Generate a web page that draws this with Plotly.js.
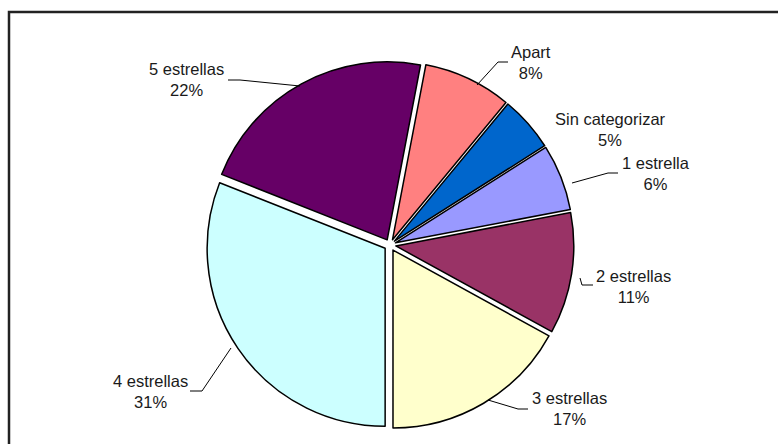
<!DOCTYPE html>
<html>
<head>
<meta charset="utf-8">
<script src="https://cdn.plot.ly/plotly-3.0.1.min.js"></script>
<style>
  html, body { margin: 0; padding: 0; background: #ffffff; }
  #chart { width: 778px; height: 444px; }
</style>
</head>
<body>
<div id="chart"></div>
<script>
// ---- data ----
const categories = ["Apart", "Sin categorizar", "1 estrella", "2 estrellas", "3 estrellas", "4 estrellas", "5 estrellas"];
const shares = [8, 5, 6, 11, 17, 31, 22];
const sliceColors = ["#FF8080", "#0066CC", "#9999FF", "#993366", "#FFFFCC", "#CCFFFF", "#660066"];

// ---- layout helpers (pixel -> paper) ----
const W = 778, H = 444;
const px = v => v / W;
const py = v => 1 - v / H;

// pie geometry
const cx = 390, cy = 245, R = 178, pullFrac = 0.033;
const box = R * (2 + 2 * pullFrac);
const domainX = [px(cx - 200), px(cx + 200)];
const domainY = [py(cy + box / 2), py(cy - box / 2)];

const total = shares.reduce((a, b) => a + b, 0);
const pctText = shares.map(v => Math.round(v / total * 100) + "%");

// label block centres (pixels) and leader line paths (pixels)
const labelPos = {
  "Apart": [531, 62],
  "Sin categorizar": [610, 129.5],
  "1 estrella": [656, 173],
  "2 estrellas": [633, 286],
  "3 estrellas": [569, 408.5],
  "4 estrellas": [150, 391.5],
  "5 estrellas": [186, 80]
};
const leaders = [
  [[228, 80], [240, 80], [300, 86]],
  [[508, 62], [498, 62], [477, 85]],
  [[618, 173], [608, 173], [572, 183]],
  [[593, 285], [582, 285], [580, 278]],
  [[528, 409], [518, 409], [488, 400]],
  [[190, 391], [202, 391], [231, 348]]
];

const annotations = categories.map((c, i) => ({
  xref: "paper", yref: "paper",
  x: px(labelPos[c][0]), y: py(labelPos[c][1]),
  xanchor: "center", yanchor: "middle",
  text: c + "<br>" + pctText[i],
  showarrow: false,
  align: "center",
  font: { family: "Liberation Sans, Arial, sans-serif", size: 16.5, color: "#1a1a1a" }
}));

const shapes = leaders.map(pts => ({
  type: "path", xref: "paper", yref: "paper",
  path: pts.map((p, k) => (k ? "L" : "M") + px(p[0]) + "," + py(p[1])).join(" "),
  line: { color: "#000000", width: 1 }
}));
// outer frame
shapes.push({
  type: "rect", xref: "paper", yref: "paper",
  x0: px(9), x1: 1.05, y0: -0.05, y1: py(12),
  line: { color: "#222222", width: 2.5 }
});

const trace = {
  type: "pie",
  labels: categories,
  values: shares,
  sort: false,
  direction: "clockwise",
  rotation: 10.8,
  pull: shares.map(() => pullFrac),
  marker: { colors: sliceColors, line: { color: "#000000", width: 1.5 } },
  textinfo: "none",
  hoverinfo: "none",
  showlegend: false,
  domain: { x: domainX, y: domainY }
};

const layout = {
  width: W, height: H,
  margin: { l: 0, r: 0, t: 0, b: 0 },
  paper_bgcolor: "#ffffff",
  plot_bgcolor: "#ffffff",
  showlegend: false,
  annotations: annotations,
  shapes: shapes
};

Plotly.newPlot("chart", [trace], layout, { displayModeBar: false, staticPlot: true });
</script>
</body>
</html>
